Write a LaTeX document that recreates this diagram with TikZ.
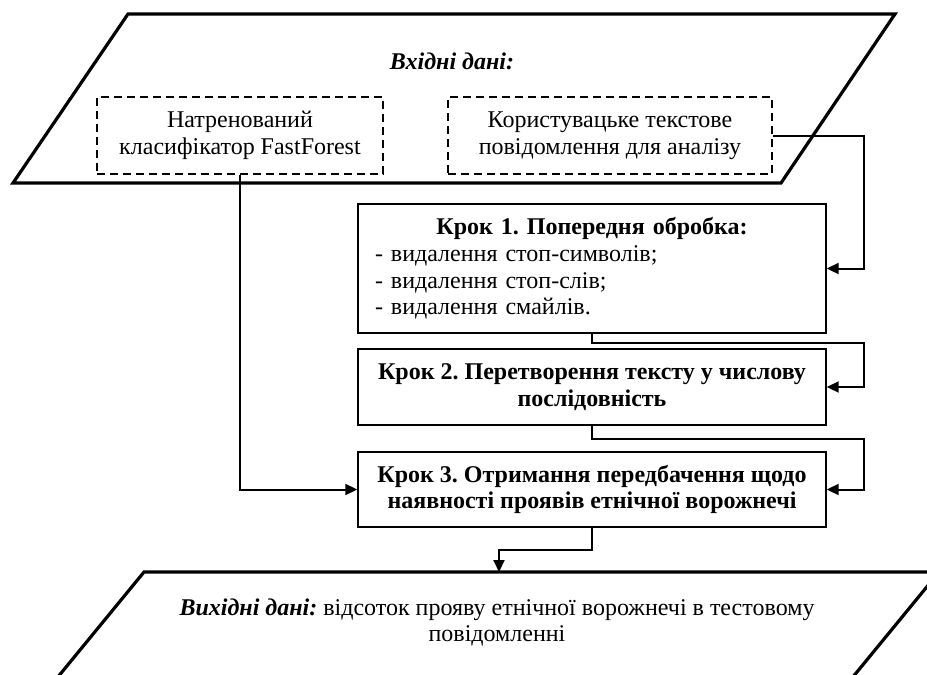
\documentclass[tikz,border=0pt]{standalone}
\usepackage{fontspec}
\setmainfont{Liberation Serif}
\usetikzlibrary{arrows.meta, positioning}
\frenchspacing

\begin{document}
\begin{tikzpicture}[x=0.5pt, y=-0.5pt,
    txt/.style={font=\fontsize{12}{13.4}\selectfont},
    inbox/.style={txt, draw, line width=0.7pt, dash pattern=on 4pt off 2.5pt, align=center, minimum height=38.5pt},
    stepbox/.style={txt, draw, line width=0.7pt, minimum width=234pt, align=center},
    link/.style={line width=1pt, -{Triangle[length=6pt, width=5.5pt]}}]

            \clip (0,0) rectangle (927,675);

            % input data
            \draw[line width=1.6pt] (128,14) -- (895,14) -- (781,183) -- (13,183) -- cycle;
            \node[txt, font=\fontsize{12}{13.4}\selectfont\bfseries\itshape] (intitle) at (452,61) {Вхідні дані:};
            \node[inbox, minimum width=143pt] (model) at (240,135.5) {Натренований\\класифікатор FastForest};
            \node[inbox, minimum width=162pt] (msg) at (610,135.5) {Користувацьке текстове\\повідомлення для аналізу};

            % steps
            \node[stepbox, text width=217pt, inner xsep=8.5pt, align=left, minimum height=64.5pt] (prep) at (592,268.5)
                {\makebox[217pt]{\bfseries Крок 1. Попередня обробка:}\\- видалення стоп-символів;\\- видалення стоп-слів;\\- видалення смайлів.};
            \node[stepbox, font=\fontsize{12}{13.4}\selectfont\bfseries, minimum height=38pt] (conv) at (592,387)
                {Крок 2. Перетворення тексту у числову\\послідовність};
            \node[stepbox, font=\fontsize{12}{13.4}\selectfont\bfseries, minimum height=37.5pt] (pred) at (592,489.5)
                {Крок 3. Отримання передбачення щодо\\наявності проявів етнічної ворожнечі};

            % output data
            \draw[line width=1.6pt] (144,572) -- (939,572) -- (834,700) -- (39,700) -- cycle;
            \node[txt, align=center] (outtext) at (497,622.5)
                {{\bfseries\itshape Вихідні дані:} відсоток прояву етнічної ворожнечі в тестовому\\повідомленні};
            \coordinate (outtop) at (499,572);

            \coordinate (rail) at (864,0);
            \draw[link] (msg.east) -- (rail |- msg.east) |- (prep.east);
            \draw[link] (prep.south) -- ++(0,9) -| (rail |- conv.east) -- (conv.east);
            \draw[link] (conv.south) -- ++(0,13) -| (rail |- pred.east) -- (pred.east);
            \draw[link] (model.south) |- (pred.west);
            \draw[link] (pred.south) -- ++(0,22) -| (outtop);

        \end{tikzpicture}
\end{document}
